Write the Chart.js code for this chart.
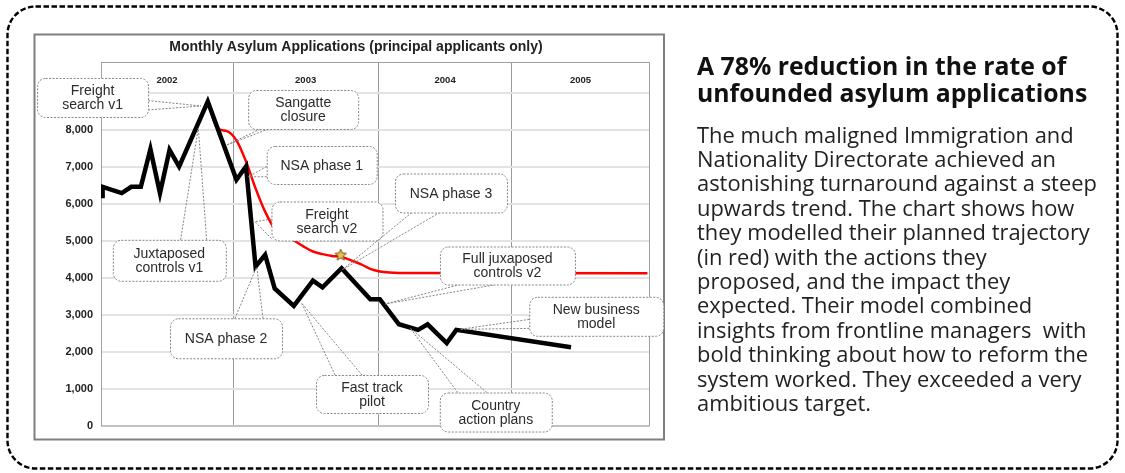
<!DOCTYPE html>
<html>
<head>
<meta charset="utf-8">
<script src="https://cdn.jsdelivr.net/npm/chart.js@4.4.1/dist/chart.umd.min.js"></script>
<style>
  html, body { margin: 0; padding: 0; background: #fff; }
  #wrap { position: relative; width: 1125px; height: 473px; overflow: hidden; }
  #asylum { position: absolute; left: 0; top: 0; }
  .side { position: absolute; left: 697px; font-family: "Open Sans", Lato, sans-serif; white-space: nowrap; }
  #head { top: 52px; font-size: 24.8px; line-height: 26.7px; font-weight: 700; color: #111; }
  #body { top: 122.6px; font-size: 21.9px; line-height: 24.4px; color: #222; }
</style>
</head>
<body>
<div id="wrap">
  <canvas id="asylum" width="1125" height="473"></canvas>
  <div class="side" id="head">A 78% reduction in the rate of<br>unfounded asylum applications</div>
  <div class="side" id="body">The much maligned Immigration and<br>Nationality Directorate achieved an<br>astonishing turnaround against a steep<br>upwards trend. The chart shows how<br>they modelled their planned trajectory<br>(in red) with the actions they<br>proposed, and the impact they<br>expected. Their model combined<br>insights from frontline managers&nbsp; with<br>bold thinking about how to reform the<br>system worked. They exceeded a very<br>ambitious target.</div>
</div>
<script>
// months counted from the first month shown
const actualMonths = [0, 0, 2, 3, 4, 5, 6, 7, 8, 11, 14, 15, 16, 17, 18, 20, 22, 23, 25, 28, 29, 31, 33, 34, 36, 37, 49];
const actualApps = [6150, 6460, 6290, 6460, 6460, 7480, 6290, 7460, 7010, 8770, 6650, 7010, 4300, 4620, 3710, 3240, 3920, 3740, 4260, 3420, 3420, 2740, 2590, 2740, 2230, 2590, 2120];

const planMonths = [11, 12, 13, 14, 15, 16, 17, 18, 19, 20, 21, 22, 23, 24, 25, 26, 27, 28, 29, 30, 31, 57];
const planApps = [8770, 8050, 7970, 7720, 7150, 6420, 5790, 5330, 5130, 5010, 4850, 4710, 4640, 4590, 4560, 4470, 4370, 4240, 4170, 4140, 4130, 4120];

const targetStar = [24.9, 4610];

const years = ['2002', '2003', '2004', '2005'];
const yearEdges = [-0.17, 13.64, 28.84, 42.82, 57.16];
const yTicks = [0, 1000, 2000, 3000, 4000, 5000, 6000, 7000, 8000, 9000];

const callouts = [
  { lines: ['Freight', 'search v1'], at: [-1.05, 8880], size: [111, 39], tip: [10.3, 8650], base: ['right', 0.58, 0.82] },
  { lines: ['Sangatte', 'closure'], at: [20.98, 8554], size: [110, 39], tip: [12.98, 7593], base: ['bottom', 0.11, 0.185] },
  { lines: ['NSA phase 1'], at: [22.92, 7052], size: [110, 38], tip: [15.24, 6735], base: ['left', 0.54, 0.81] },
  { lines: ['Freight', 'search v2'], at: [23.47, 5536], size: [111, 39], tip: [15.94, 5517], base: ['left', 0.45, 0.95] },
  { lines: ['NSA phase 3'], at: [36.44, 6294], size: [112, 39], tip: [25.1, 4220], base: ['bottom', 0.15, 0.40] },
  { lines: ['Full juxaposed', 'controls v2'], at: [42.35, 4331], size: [135, 38], tip: [29.56, 3289], base: ['bottom', 0.15, 0.42] },
  { lines: ['New business', 'model'], at: [51.64, 2956], size: [134, 39], tip: [37.38, 2604], base: ['left', 0.58, 0.81] },
  { lines: ['Country', 'action plans'], at: [41.13, 365], size: [112, 39], tip: [32.17, 2639], base: ['top', 0.16, 0.42] },
  { lines: ['Fast track', 'pilot'], at: [28.18, 853], size: [112, 38], tip: [20.83, 3308], base: ['top', 0.17, 0.41] },
  { lines: ['NSA phase 2'], at: [12.91, 2361], size: [112, 40], tip: [16.12, 4299], base: ['top', 0.58, 0.83] },
  { lines: ['Juxtaposed', 'controls v1'], at: [6.98, 4472], size: [113, 41], tip: [10.01, 8054], base: ['top', 0.6, 0.83] }
];

const arial = '"Liberation Sans", Arial, sans-serif';

function makeStar(r) {
  const c = document.createElement('canvas');
  const s = Math.ceil(r * 2 + 4);
  c.width = s;
  c.height = s;
  const g = c.getContext('2d');
  g.beginPath();
  for (let i = 0; i < 10; i++) {
    const rad = i % 2 ? r * 0.45 : r;
    const a = -Math.PI / 2 + i * Math.PI / 5;
    g.lineTo(s / 2 + rad * Math.cos(a), s / 2 + rad * Math.sin(a));
  }
  g.closePath();
  g.fillStyle = '#f2c04e';
  g.fill();
  g.strokeStyle = '#6e5414';
  g.lineWidth = 1;
  g.stroke();
  return c;
}

function drawCallout(ctx, c, xs, ys) {
  const cx = xs.getPixelForValue(c.at[0]);
  const cy = ys.getPixelForValue(c.at[1]);
  const w = c.size[0], h = c.size[1];
  const x0 = cx - w / 2, y0 = cy - h / 2;
  const tx = xs.getPixelForValue(c.tip[0]);
  const ty = ys.getPixelForValue(c.tip[1]);
  const side = c.base[0];
  const pts = [c.base[1], c.base[2]].map(function(f) {
    if (side === 'left') return [x0, y0 + f * h];
    if (side === 'right') return [x0 + w, y0 + f * h];
    if (side === 'top') return [x0 + f * w, y0];
    return [x0 + f * w, y0 + h];
  });
  ctx.save();
  ctx.strokeStyle = '#858585';
  ctx.lineWidth = 1;
  ctx.setLineDash([2, 1.5]);
  pts.forEach(function(p) {
    ctx.beginPath();
    ctx.moveTo(p[0], p[1]);
    ctx.lineTo(tx, ty);
    ctx.stroke();
  });
  ctx.beginPath();
  ctx.roundRect(x0 + 0.5, y0 + 0.5, w, h, 8);
  ctx.fillStyle = '#fff';
  ctx.fill();
  ctx.stroke();
  ctx.setLineDash([]);
  ctx.fillStyle = '#2b2b2b';
  ctx.font = '14px ' + arial;
  ctx.textAlign = 'center';
  ctx.textBaseline = 'middle';
  c.lines.forEach(function(t, i) {
    ctx.fillText(t, cx, cy + 1 + (i - (c.lines.length - 1) / 2) * 14);
  });
  ctx.restore();
}

const decor = {
  id: 'decor',
  beforeDraw(chart) {
    const ctx = chart.ctx;
    ctx.save();
    ctx.fillStyle = '#fff';
    ctx.fillRect(0, 0, chart.width, chart.height);
    // dashed rounded outline round everything
    ctx.setLineDash([5.5, 2.5]);
    ctx.lineWidth = 2.4;
    ctx.strokeStyle = '#000';
    ctx.beginPath();
    ctx.roundRect(7.5, 6.5, 1110, 462, 28);
    ctx.stroke();
    ctx.setLineDash([]);
    // chart frame
    ctx.strokeStyle = '#7f7f7f';
    ctx.lineWidth = 2;
    ctx.strokeRect(34.5, 34.5, 629.5, 405);
    ctx.restore();
  },
  beforeDatasetsDraw(chart) {
    const ctx = chart.ctx;
    const a = chart.chartArea;
    const xs = chart.scales.x;
    ctx.save();
    ctx.strokeStyle = '#a0a0a0';
    ctx.lineWidth = 1;
    ctx.strokeRect(a.left + 0.5, a.top + 0.5, a.right - a.left, a.bottom - a.top);
    ctx.fillStyle = '#222';
    ctx.font = 'bold 9.5px ' + arial;
    ctx.textAlign = 'center';
    ctx.textBaseline = 'middle';
    years.forEach(function(y, i) {
      const mid = (yearEdges[i] + yearEdges[i + 1]) / 2;
      ctx.fillText(y, xs.getPixelForValue(mid), a.top + 18);
    });
    ctx.restore();
  },
  afterDatasetsDraw(chart) {
    const xs = chart.scales.x, ys = chart.scales.y;
    callouts.forEach(function(c) { drawCallout(chart.ctx, c, xs, ys); });
  }
};

const toPoints = (xs, ys) => xs.map((x, i) => ({ x: x, y: ys[i] }));

new Chart(document.getElementById('asylum'), {
  type: 'line',
  data: {
    datasets: [
      {
        label: 'Target',
        data: [{ x: targetStar[0], y: targetStar[1] }],
        showLine: false,
        pointStyle: makeStar(6),
        pointRadius: 7
      },
      {
        label: 'Actual',
        data: toPoints(actualMonths, actualApps),
        borderColor: '#000',
        borderWidth: 4.5,
        borderJoinStyle: 'miter',
        pointRadius: 0
      },
      {
        label: 'Plan',
        data: toPoints(planMonths, planApps),
        borderColor: '#ff0000',
        borderWidth: 2.5,
        borderJoinStyle: 'round',
        cubicInterpolationMode: 'monotone',
        pointRadius: 0
      }
    ]
  },
  options: {
    responsive: false,
    animation: false,
    layout: { padding: { left: 63, right: 476, top: 38.6, bottom: 47.5 } },
    plugins: {
      legend: { display: false },
      tooltip: { enabled: false },
      title: {
        display: true,
        text: 'Monthly Asylum Applications (principal applicants only)',
        color: '#222',
        font: { family: arial, size: 14, weight: 'bold' },
        padding: { top: 0, bottom: 6.6 }
      }
    },
    scales: {
      x: {
        type: 'linear',
        min: yearEdges[0],
        max: yearEdges[yearEdges.length - 1],
        afterBuildTicks(scale) {
          scale.ticks = yearEdges.slice(1, -1).map(v => ({ value: v }));
        },
        ticks: { display: false },
        grid: { color: '#999', lineWidth: 1, drawTicks: false },
        border: { display: false }
      },
      y: {
        min: 0,
        max: 9840,
        afterBuildTicks(scale) {
          scale.ticks = yTicks.map(v => ({ value: v }));
        },
        afterFit(scale) { scale.width = 38; },
        ticks: {
          padding: 8,
          color: '#222',
          font: { family: arial, size: 11, weight: 'bold' },
          callback: v => (v > 8000 ? '' : v.toLocaleString('en-US'))
        },
        grid: { color: '#e3e3e3', lineWidth: 2, drawTicks: false },
        border: { display: false }
      }
    }
  },
  plugins: [decor]
});
</script>
</body>
</html>
